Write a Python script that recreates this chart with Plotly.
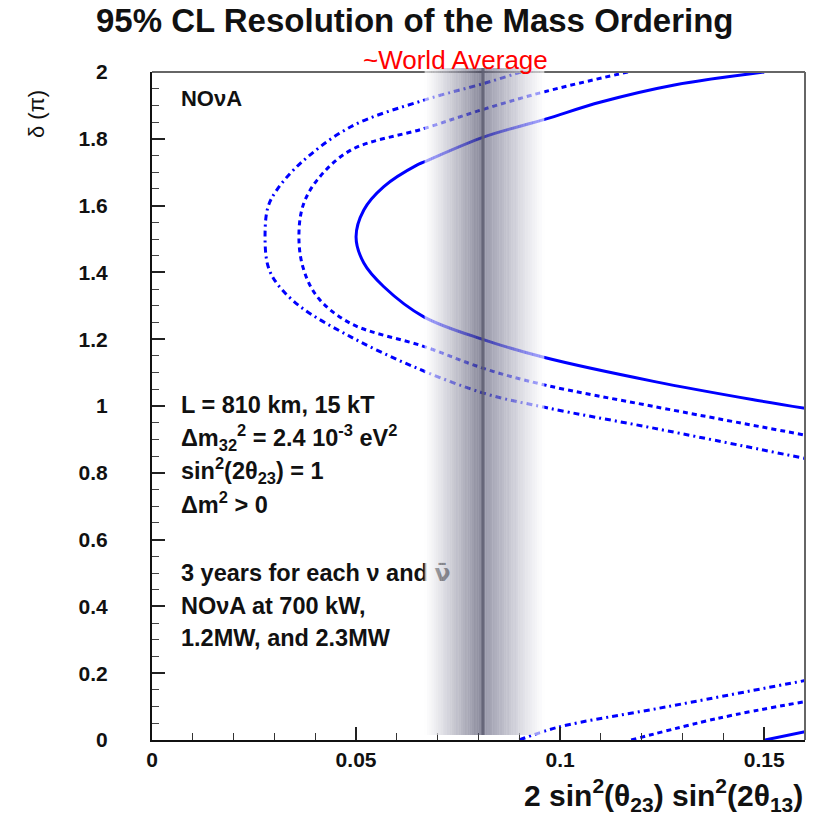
import plotly.graph_objects as go

# ---------------- data ----------------
# 2.3 MW (solid), upper/lower branch of the C-shaped contour
solid_x = [0.150, 0.128, 0.110, 0.0962, 0.0814, 0.0667, 0.0650, 0.0568, 0.0519, 0.0500,
           0.0519, 0.0568, 0.0666, 0.0814, 0.0962, 0.1232, 0.1477, 0.160]
solid_y = [2.000, 1.961, 1.910, 1.858, 1.806, 1.731, 1.722, 1.657, 1.587, 1.506,
           1.428, 1.357, 1.267, 1.198, 1.145, 1.073, 1.018, 0.993]
# 1.2 MW (dashed)
dash_x = [0.1166, 0.0962, 0.0814, 0.0667, 0.0487, 0.0405, 0.0370, 0.0360,
          0.0370, 0.0405, 0.0487, 0.0667, 0.0814, 0.0962, 0.1232, 0.160]
dash_y = [2.000, 1.941, 1.889, 1.831, 1.766, 1.677, 1.600, 1.507,
          1.415, 1.327, 1.247, 1.178, 1.112, 1.063, 0.998, 0.913]
# 700 kW (dash-dot)
dd_x = [0.0904, 0.0814, 0.0667, 0.0487, 0.0364, 0.0306, 0.0284, 0.0277,
        0.0284, 0.0306, 0.0364, 0.0487, 0.0642, 0.0814, 0.0962, 0.1232, 0.160]
dd_y = [2.000, 1.966, 1.916, 1.836, 1.727, 1.647, 1.595, 1.507,
        1.420, 1.367, 1.297, 1.207, 1.117, 1.038, 0.996, 0.933, 0.843]
# lower pieces (delta near 0)
solid_lo_x = [0.1502, 0.160]
solid_lo_y = [0.000, 0.025]
dash_lo_x = [0.1174, 0.1387, 0.160]
dash_lo_y = [0.000, 0.065, 0.115]
dd_lo_x = [0.0900, 0.0994, 0.1264, 0.160]
dd_lo_y = [0.000, 0.038, 0.100, 0.178]

# world average band
wa_center = 0.0811
wa_low = 0.0668
wa_high = 0.0961

x_tickvals = [0, 0.05, 0.1, 0.15]
x_ticktext = ["0", "0.05", "0.1", "0.15"]
y_tickvals = [0, 0.2, 0.4, 0.6, 0.8, 1.0, 1.2, 1.4, 1.6, 1.8, 2.0]
y_ticktext = ["0", "0.2", "0.4", "0.6", "0.8", "1", "1.2", "1.4", "1.6", "1.8", "2"]

info_lines = [
    "L = 810 km, 15 kT",
    "Δm<sub>32</sub><sup>2</sup> = 2.4 10<sup>-3</sup> eV<sup>2</sup>",
    "sin<sup>2</sup>(2θ<sub>23</sub>) = 1",
    "Δm<sup>2</sup> > 0",
    "3 years for each ν and <span style=\"font-family:DejaVu Sans\">ν̄</span>",
    "NOνA at 700 kW,",
    "1.2MW, and 2.3MW",
]

FONT = "Liberation Sans, Arial, Helvetica, sans-serif"
BLUE = "#0000ff"

fig = go.Figure()

line_specs = [
    (solid_x, solid_y, "solid"),
    (solid_lo_x, solid_lo_y, "solid"),
    (dash_x, dash_y, "5px,4px"),
    (dash_lo_x, dash_lo_y, "5px,4px"),
    (dd_x, dd_y, "6px,4px,2px,4px"),
    (dd_lo_x, dd_lo_y, "6px,4px,2px,4px"),
]
for xs, ys, dash in line_specs:
    fig.add_trace(go.Scatter(x=xs, y=ys, mode="lines",
                             line=dict(color=BLUE, width=3, dash=dash, shape="spline", smoothing=1.0),
                             hoverinfo="skip", showlegend=False, cliponaxis=True))

# text block as text traces (so the band overlays it like in the reference)
text_x = 0.0071
text_y = [0.997, 0.898, 0.799, 0.698, 0.494, 0.395, 0.299]
fig.add_trace(go.Scatter(x=[text_x] * len(info_lines), y=text_y, mode="text",
                         text=info_lines, textposition="middle right",
                         textfont=dict(family=FONT, size=23.5, color="#111", weight="bold"),
                         hoverinfo="skip", showlegend=False, cliponaxis=False))
fig.add_trace(go.Scatter(x=[text_x], y=[1.916], mode="text", text=["NOνA"],
                         textposition="middle right",
                         textfont=dict(family=FONT, size=22, color="#111", weight="bold"),
                         hoverinfo="skip", showlegend=False))

shapes = []
# frame top/right (gray)
shapes.append(dict(type="line", xref="paper", yref="paper", x0=0, x1=1, y0=1, y1=1,
                   line=dict(color="#666", width=2), layer="above"))
shapes.append(dict(type="line", xref="paper", yref="paper", x0=1, x1=1, y0=0, y1=1,
                   line=dict(color="#666", width=2), layer="above"))

# gradient band
alpha = 0.65
N = 26
def strip_color(t, depth, tint):
    base = 255 - depth * (1 - t) ** 1.15
    rgb = [base, base, min(255, base + tint * (1 - t))]
    c = [max(0, min(255, (v - (1 - alpha) * 255) / alpha)) for v in rgb]
    return "rgba(%d,%d,%d,%.2f)" % (c[0], c[1], c[2], alpha)

for side, (a, b, depth) in enumerate([(wa_low, wa_center, 120), (wa_center, wa_high, 105)]):
    w = (b - a) / N
    for i in range(N):
        x0 = a + i * w
        x1 = x0 + w
        mid = (x0 + x1) / 2
        t = abs(mid - wa_center) / abs((a if side == 0 else b) - wa_center)
        shapes.append(dict(type="rect", xref="x", yref="paper", x0=x0, x1=x1 + w * 0.05,
                           y0=0.0075, y1=1.006, line=dict(width=0),
                           fillcolor=strip_color(t, depth, 18), layer="above"))
shapes.append(dict(type="line", xref="x", yref="paper", x0=wa_center, x1=wa_center,
                   y0=0.0075, y1=1.006, line=dict(color="rgba(95,95,115,0.85)", width=3),
                   layer="above"))

annotations = [
    dict(text="<b>95% CL Resolution of the Mass Ordering</b>", xref="paper", yref="paper",
         x=(415 - 152) / 653, y=(740 - 21) / 668, xanchor="center", yanchor="middle",
         showarrow=False, font=dict(family=FONT, size=33, color="#111")),
    dict(text="~World Average", xref="paper", yref="paper",
         x=(455 - 152) / 653, y=(740 - 60) / 668, xanchor="center", yanchor="middle",
         showarrow=False, font=dict(family=FONT, size=26, color="#ff0000")),
    dict(text="<b>2 sin<sup>2</sup>(θ<sub>23</sub>) sin<sup>2</sup>(2θ<sub>13</sub>)</b>",
         xref="paper", yref="paper", x=1.0, y=(740 - 795) / 668,
         xanchor="right", yanchor="middle", showarrow=False,
         font=dict(family=FONT, size=30, color="#111")),
    dict(text="δ (π)", xref="paper", yref="paper", x=(36 - 152) / 653, y=(740 - 114) / 668,
         xanchor="center", yanchor="middle", textangle=-90, showarrow=False,
         font=dict(family=FONT, size=22, color="#111")),
]

tickfont = dict(family=FONT, size=21, color="#111", weight="bold")
fig.update_layout(
    width=815, height=817,
    margin=dict(l=152, r=10, t=72, b=77),
    paper_bgcolor="white", plot_bgcolor="white",
    shapes=shapes, annotations=annotations,
    xaxis=dict(range=[0, 0.16], tickvals=x_tickvals, ticktext=x_ticktext,
               ticks="inside", ticklen=13, tickwidth=1.5, tickcolor="#222",
               minor=dict(dtick=0.01, tick0=0, ticks="inside", ticklen=7, tickwidth=1.2, tickcolor="#333"),
               showgrid=False, zeroline=False, showline=True, linecolor="#111", linewidth=2,
               tickfont=tickfont, ticklabelstandoff=0),
    yaxis=dict(range=[0, 2], tickvals=y_tickvals, ticktext=y_ticktext,
               ticks="inside", ticklen=13, tickwidth=1.5, tickcolor="#222",
               minor=dict(dtick=0.05, tick0=0, ticks="inside", ticklen=7, tickwidth=1.2, tickcolor="#444"),
               showgrid=False, zeroline=False, showline=True, linecolor="#111", linewidth=2,
               tickfont=tickfont, ticklabelstandoff=38),
    showlegend=False,
)

fig.write_html("out.html")
